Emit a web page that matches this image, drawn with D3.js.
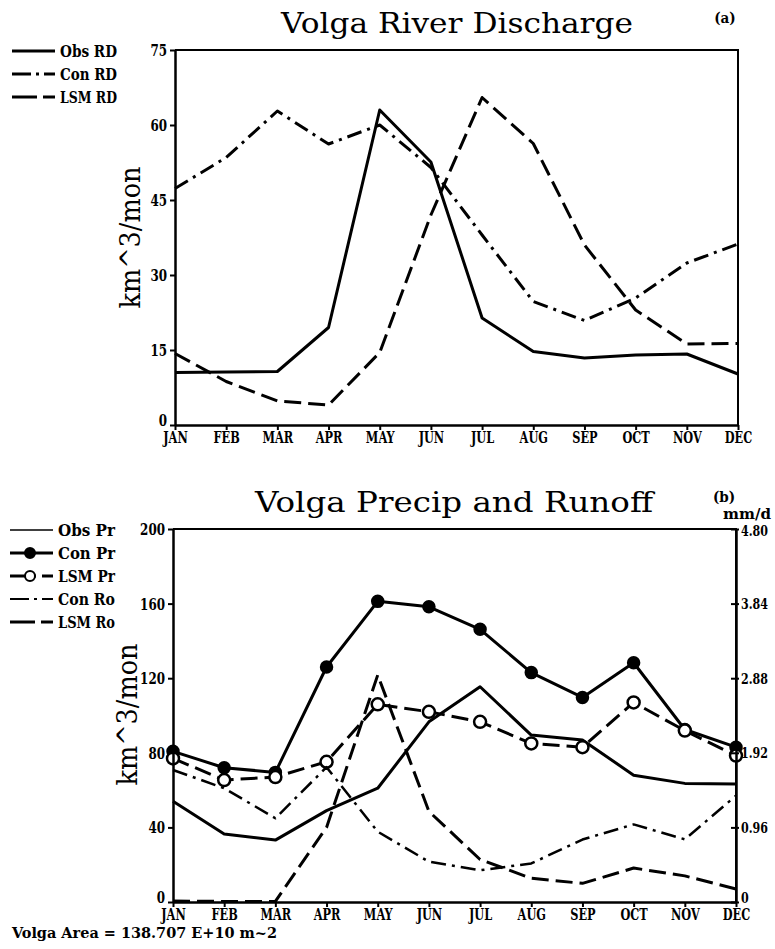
<!DOCTYPE html>
<html>
<head>
<meta charset="utf-8">
<script src="https://cdn.jsdelivr.net/npm/d3@7/dist/d3.min.js"></script>
<style>
  body { margin: 0; background: #fff; }
  svg text { fill: #000; }
  .axis text { font-family: "DejaVu Serif Condensed", "DejaVu Serif", serif; font-stretch: condensed; font-weight: bold; font-size: 17px; }
  .axis.mmd text { font-size: 15px; }
  .axis .domain { stroke: #000; stroke-width: 2.5; }
  .axis .tick line { stroke: #000; stroke-width: 2; }
  .legend text { font-family: "DejaVu Serif Condensed", "DejaVu Serif", serif; font-stretch: condensed; font-weight: bold; font-size: 16px; }
  .title { font-family: "DejaVu Serif", serif; font-size: 28px; }
  .ylab { font-family: "DejaVu Serif", serif; font-size: 27px; }
  .small { font-family: "DejaVu Serif Condensed", "DejaVu Serif", serif; font-stretch: condensed; font-weight: bold; font-size: 15px; }
</style>
</head>
<body>
<svg id="chart" width="775" height="949"></svg>
<script>
const months = ['JAN', 'FEB', 'MAR', 'APR', 'MAY', 'JUN', 'JUL', 'AUG', 'SEP', 'OCT', 'NOV', 'DEC'];

// (a) river discharge, km^3/mon
const obsRD = [10.5, 10.6, 10.7, 19.5, 63, 52.6, 21.4, 14.7, 13.4, 14, 14.2, 10.2];
const conRD = [47.3, 53.5, 62.8, 56.2, 60, 51.5, 38, 24.7, 20.9, 25.4, 32.4, 36.2];
const lsmRD = [14.3, 8.7, 4.8, 4.0, 14.5, 42, 65.5, 56.3, 36, 23, 16.2, 16.3];
const ticksA = [0, 15, 30, 45, 60, 75];

// (b) precip and runoff, km^3/mon
const obsPr = [54, 36.5, 33.2, 49, 61, 96.6, 115.4, 89.5, 86.9, 68, 63.6, 63.3];
const conPr = [80.8, 72, 69.5, 126, 161.2, 158.3, 146.2, 123, 109.7, 128.3, 92.5, 83];
const lsmPr = [77, 65.4, 67, 75.2, 106, 102, 96.6, 85, 83, 107, 91.9, 78.5];
const conRo = [70.8, 61, 44.9, 72.3, 37.7, 21.6, 17, 20.7, 33.5, 41.6, 33.6, 57];
const lsmRo = [0.5, 0.3, 0.3, 40, 121.7, 48.6, 22.8, 12.7, 10, 18.2, 14, 7];
const ticksB = [0, 40, 80, 120, 160, 200];
const ticksMmd = [0, 0.96, 1.92, 2.88, 3.84, 4.80];

const svg = d3.select('#chart');

const SOLID = null, DASH = '17,7', DASHDOT = '15,6,3,6';

// squeeze axis labels into the tall, narrow look of the original lettering
function squeeze(sel, k) {
  sel.each(function () {
    const w = this.getComputedTextLength();
    d3.select(this).attr('textLength', w * k).attr('lengthAdjust', 'spacingAndGlyphs');
  });
}

function panel(p) {
  const x = d3.scalePoint().domain(months).range([p.left, p.right]);
  const y = d3.scaleLinear().domain(p.domain).range([p.bottom, p.top]);
  const g = svg.append('g');

  // frame top + right
  g.append('path')
    .attr('d', `M${p.left},${p.top}H${p.right}V${p.bottom}`)
    .attr('fill', 'none').attr('stroke', '#000').attr('stroke-width', 2);

  // series
  const line = d3.line().x((d, i) => x(months[i])).y(d => y(d));
  p.series.forEach(s => {
    g.append('path')
      .datum(s.values)
      .attr('d', line)
      .attr('fill', 'none')
      .attr('stroke', '#000')
      .attr('stroke-width', s.width || 3)
      .attr('stroke-linejoin', 'round')
      .attr('stroke-dasharray', s.dash);
    if (s.marker) {
      g.selectAll(null).data(s.values).join('circle')
        .attr('cx', (d, i) => x(months[i]))
        .attr('cy', d => y(d))
        .attr('r', s.marker === 'filled' ? 5.5 : 6)
        .attr('fill', s.marker === 'filled' ? '#000' : '#fff')
        .attr('stroke', '#000')
        .attr('stroke-width', 2.5);
    }
  });

  // axes
  g.append('g').attr('class', 'axis')
    .attr('transform', `translate(0,${p.bottom})`)
    .call(d3.axisBottom(x).tickSize(5).tickSizeOuter(0).tickPadding(1))
    .call(a => squeeze(a.selectAll('text'), 0.74));
  g.append('g').attr('class', 'axis')
    .attr('transform', `translate(${p.left},0)`)
    .call(d3.axisLeft(y).tickValues(p.ticks).tickSize(5).tickSizeOuter(0).tickPadding(3).tickFormat(d3.format('d')))
    .call(a => squeeze(a.selectAll('text'), 0.78))
    .call(a => a.selectAll('.tick text').filter(d => d === 0).attr('dy', '0.05em'));

  if (p.right2) {
    const y2 = d3.scaleLinear().domain([0, 4.80]).range([p.bottom, p.top]);
    g.append('g').attr('class', 'axis mmd')
      .attr('transform', `translate(${p.right},0)`)
      .call(d3.axisRight(y2).tickValues(ticksMmd).tickSize(3).tickSizeOuter(0).tickPadding(2)
        .tickFormat(d => d === 0 ? '0' : d3.format('.2f')(d)))
      .call(a => a.selectAll('.tick line').attr('x1', -5))
      .call(a => squeeze(a.selectAll('text'), 0.82))
      .call(a => a.selectAll('.tick text').filter(d => d === 0).attr('dy', '0.05em'))
      .call(a => a.selectAll('.tick text').filter(d => d === 4.80).attr('dy', '0.45em'));
  }

  // title
  svg.append('text').attr('class', 'title')
    .attr('x', p.titleX).attr('y', p.titleY)
    .attr('text-anchor', 'middle')
    .attr('textLength', p.titleLen).attr('lengthAdjust', 'spacingAndGlyphs')
    .text(p.title);

  // y label
  svg.append('text').attr('class', 'ylab')
    .attr('transform', `translate(${p.ylabX},${(p.top + p.bottom) / 2 + p.ylabDy}) rotate(-90)`)
    .attr('text-anchor', 'middle')
    .attr('textLength', 142).attr('lengthAdjust', 'spacingAndGlyphs')
    .text('km^3/mon');

  // legend
  const lg = svg.append('g').attr('class', 'legend');
  p.series.forEach((s, i) => {
    const ly = p.legY + i * p.legStep;
    lg.append('line')
      .attr('x1', p.legX1).attr('x2', p.legX2).attr('y1', ly).attr('y2', ly)
      .attr('stroke', '#000')
      .attr('stroke-width', s.legWidth || s.width || 3)
      .attr('stroke-dasharray', s.legDash || s.dash);
    if (s.marker) {
      lg.append('circle')
        .attr('cx', p.legX1 + 20).attr('cy', ly)
        .attr('r', 5)
        .attr('fill', s.marker === 'filled' ? '#000' : '#fff')
        .attr('stroke', '#000').attr('stroke-width', 2);
    }
    lg.append('text')
      .attr('x', p.legX2 + 5).attr('y', ly).attr('dy', '0.36em')
      .attr('textLength', 57).attr('lengthAdjust', 'spacingAndGlyphs')
      .text(s.name);
  });
}

panel({
  left: 175, right: 738, top: 50, bottom: 425,
  domain: [0, 75], ticks: ticksA,
  title: 'Volga River Discharge', titleX: 457, titleY: 33, titleLen: 352,
  ylabX: 140, ylabDy: 0,
  legX1: 12, legX2: 55, legY: 51, legStep: 23,
  series: [
    { name: 'Obs RD', values: obsRD, dash: SOLID },
    { name: 'Con RD', values: conRD, dash: DASHDOT, legDash: '19,5,3,5' },
    { name: 'LSM RD', values: lsmRD, dash: DASH, legDash: '25,6' }
  ]
});

panel({
  left: 173, right: 736, top: 529, bottom: 902,
  domain: [0, 200], ticks: ticksB, right2: true,
  title: 'Volga Precip and Runoff', titleX: 454, titleY: 512, titleLen: 398,
  ylabX: 137, ylabDy: -1,
  legX1: 10, legX2: 53, legY: 530, legStep: 23,
  series: [
    { name: 'Obs Pr', values: obsPr, dash: SOLID, width: 3, legWidth: 1.5 },
    { name: 'Con Pr', values: conPr, dash: SOLID, marker: 'filled' },
    { name: 'LSM Pr', values: lsmPr, dash: DASH, marker: 'open', legDash: '26,6' },
    { name: 'Con Ro', values: conRo, dash: DASHDOT, width: 2.5, legDash: '19,5,3,5', legWidth: 2 },
    { name: 'LSM Ro', values: lsmRo, dash: DASH, legDash: '25,6' }
  ]
});

// panel tags and notes
svg.append('text').attr('class', 'small').attr('x', 725).attr('y', 23).attr('text-anchor', 'middle').text('(a)');
svg.append('text').attr('class', 'small').attr('x', 724).attr('y', 502).attr('text-anchor', 'middle').text('(b)');
svg.append('text').attr('class', 'small').attr('x', 723).attr('y', 519)
  .attr('textLength', 48).attr('lengthAdjust', 'spacingAndGlyphs').text('mm/d');
svg.append('text').attr('class', 'small').style('font-size', '15px')
  .attr('x', 12).attr('y', 938)
  .attr('textLength', 265).attr('lengthAdjust', 'spacingAndGlyphs')
  .text('Volga Area = 138.707 E+10 m~2');
</script>
</body>
</html>
